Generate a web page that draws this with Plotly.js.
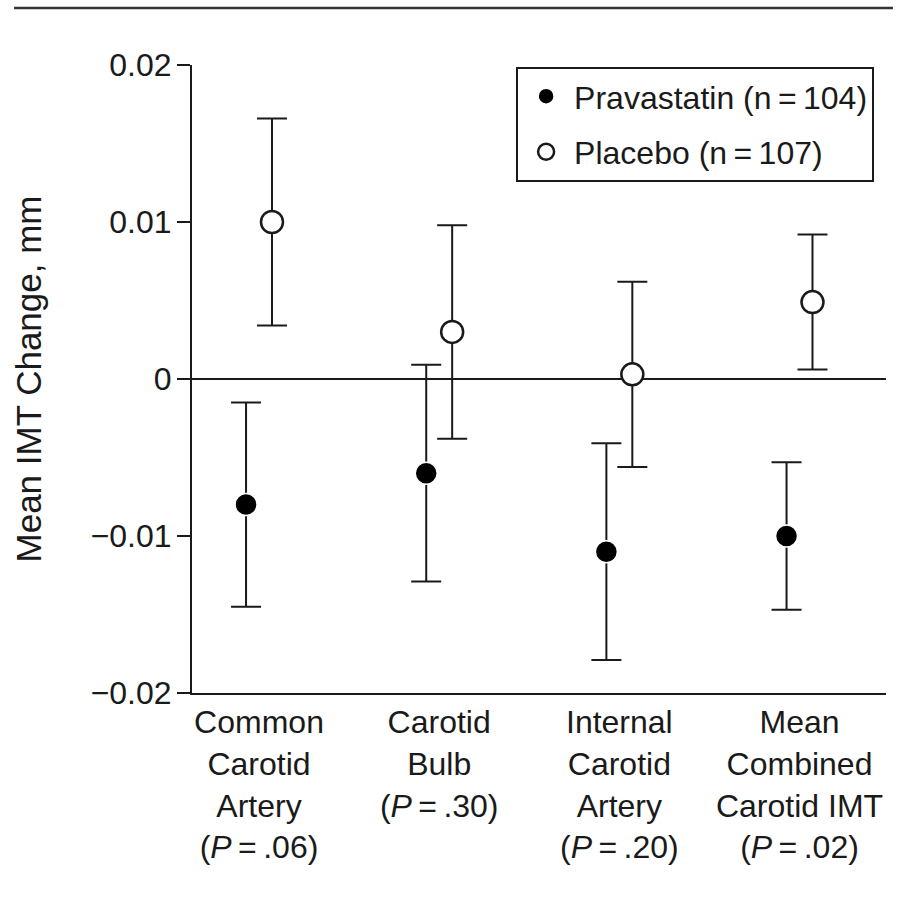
<!DOCTYPE html>
<html>
<head>
<meta charset="utf-8">
<script src="https://cdn.plot.ly/plotly-3.0.1.min.js"></script>
<style>html,body{margin:0;padding:0;background:#fff;}#chart{width:901px;height:904px;}</style>
</head>
<body>
<div id="chart"></div>
<script>
// Categories (x tick labels)
const categories = [
  "Common<br>Carotid<br>Artery<br>(<i>P</i>\u2009=\u2009.06)",
  "Carotid<br>Bulb<br>(<i>P</i>\u2009=\u2009.30)",
  "Internal<br>Carotid<br>Artery<br>(<i>P</i>\u2009=\u2009.20)",
  "Mean<br>Combined<br>Carotid IMT<br>(<i>P</i>\u2009=\u2009.02)"
];
// Series values (mean IMT change, mm) and error half-widths
const pravastatinMean = [-0.0080, -0.0060, -0.0110, -0.0100];
const pravastatinErr  = [0.0065, 0.0069, 0.0069, 0.0047];
const placeboMean     = [0.0100, 0.0030, 0.0003, 0.0049];
const placeboErr      = [0.0066, 0.0068, 0.0059, 0.0043];
// Y tick labels
const yTickVals = [-0.02, -0.01, 0, 0.01, 0.02];
const yTickText = ["\u22120.02", "\u22120.01", "0", "0.01", "0.02"];

const idx = categories.map((c, i) => i);
const dodge = 0.072;
const FONT = "Liberation Sans, Arial, Helvetica, sans-serif";
const INK = "#1a1a1a";

const traces = [
  {
    type: "scatter", mode: "markers", name: "Pravastatin (n\u2009=\u2009104)",
    legendgroup: "a",
    x: idx.map(i => i - dodge), y: pravastatinMean,
    error_y: {type: "data", array: pravastatinErr, visible: true, color: INK, thickness: 2, width: 15},
    marker: {symbol: "circle", size: 22, color: "#000", line: {color: "#fff", width: 1.5}},
    cliponaxis: false
  },
  {
    type: "scatter", mode: "markers", name: "Placebo (n\u2009=\u2009107)",
    legendgroup: "b",
    x: idx.map(i => i + dodge), y: placeboMean,
    error_y: {type: "data", array: placeboErr, visible: true, color: INK, thickness: 2, width: 15},
    marker: {symbol: "circle", size: 22, color: "#fff", line: {color: INK, width: 2.5}},
    cliponaxis: false
  }
];

const layout = {
  width: 901, height: 904,
  margin: {l: 192, r: 15, t: 65, b: 211},
  paper_bgcolor: "#fff", plot_bgcolor: "#fff",
  font: {family: FONT, color: INK, size: 30},
  showlegend: true,
  legend: {
    x: 0.467, xanchor: "left", y: 0.997, yanchor: "top",
    bordercolor: INK, borderwidth: 2, bgcolor: "#fff",
    font: {family: FONT, size: 32, color: INK},
    tracegroupgap: 11, itemwidth: 46
  },
  xaxis: {
    range: [-0.372, 3.48],
    tickmode: "array", tickvals: idx, ticktext: categories,
    showline: true, linecolor: INK, linewidth: 2,
    ticks: "", showgrid: false, zeroline: false,
    tickfont: {family: FONT, size: 32, color: INK},
    fixedrange: true
  },
  yaxis: {
    range: [-0.02, 0.02],
    tickmode: "array", tickvals: yTickVals, ticktext: yTickText,
    showline: true, linecolor: INK, linewidth: 2,
    ticks: "outside", ticklen: 13, tickwidth: 2, tickcolor: INK,
    ticklabelstandoff: -1,
    showgrid: false,
    zeroline: true, zerolinecolor: INK, zerolinewidth: 2,
    tickfont: {family: FONT, size: 32, color: INK},
    title: {text: "Mean IMT Change, mm", font: {family: FONT, size: 35, color: INK}, standoff: 38},
    fixedrange: true
  },
  shapes: [
    {type: "line", xref: "paper", yref: "paper", x0: -0.2565, x1: 1.010, y0: 1.0908, y1: 1.0908,
     line: {color: "#333", width: 2.5}}
  ]
};

Plotly.newPlot("chart", traces, layout, {displayModeBar: false, staticPlot: true});
</script>
</body>
</html>
